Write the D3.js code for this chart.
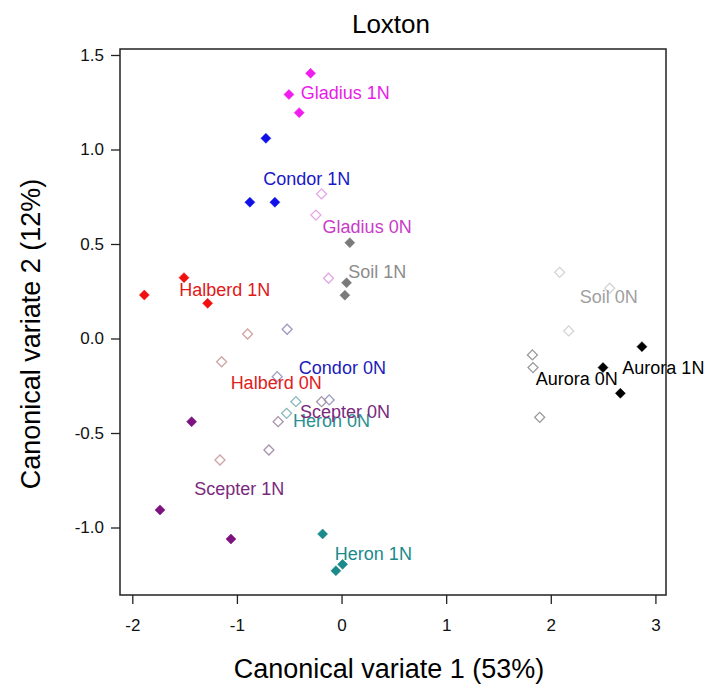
<!DOCTYPE html>
<html lang="en">
<head>
  <meta charset="UTF-8">
  <title>Loxton</title>
  <script src="https://d3js.org/d3.v7.min.js"></script>
  <style>
    body { margin: 0; background: #fff; }
    svg { display: block; font-family: "Liberation Sans", Arial, sans-serif; }
    .axis text { font-size: 17px; fill: #111; }
    .axis line { stroke: #222; stroke-width: 1.3; }
    .axis path { display: none; }
    .ptlabel { font-size: 18px; }
  </style>
</head>
<body>
<svg width="707" height="688"></svg>

<script>
  // groups (treatments) and canonical variate scores per replicate
  const groups = ["Gladius 1N", "Condor 1N", "Gladius 0N", "Soil 1N", "Halberd 1N",
                  "Halberd 0N", "Condor 0N", "Heron 0N", "Scepter 0N", "Scepter 1N",
                  "Heron 1N", "Aurora 1N", "Aurora 0N", "Soil 0N"];
  const cv1 = [
    [-0.296, -0.503, -0.405],
    [-0.723, -0.876, -0.637],
    [-0.191, -0.245, -0.124],
    [0.079, 0.048, 0.032],
    [-1.885, -1.506, -1.280],
    [-0.898, -1.146, -1.162],
    [-0.520, -0.615, -0.118],
    [-0.436, -0.525],
    [-0.191, -0.606, -0.694],
    [-1.433, -1.735, -1.057],
    [-0.181, -0.054, 0.010],
    [2.871, 2.499, 2.665],
    [1.824, 1.830, 1.894],
    [2.085, 2.563, 2.171]
  ];
  const cv2 = [
    [1.403, 1.291, 1.195],
    [1.059, 0.721, 0.721],
    [0.765, 0.653, 0.319],
    [0.507, 0.295, 0.229],
    [0.230, 0.322, 0.186],
    [0.024, -0.123, -0.643],
    [0.049, -0.202, -0.325],
    [-0.334, -0.396],
    [-0.334, -0.440, -0.590],
    [-0.440, -0.907, -1.061],
    [-1.034, -1.229, -1.195],
    [-0.043, -0.154, -0.290],
    [-0.087, -0.154, -0.417],
    [0.350, 0.266, 0.040]
  ];
  // where each group name is written (left end of text, baseline), in score units
  const labelCv1 = [-0.389, -0.749, -0.181, 0.063, -1.551, -1.060, -0.408, -0.465, -0.398, -1.408, -0.064, 2.684, 1.856, 2.276];
  const labelCv2 = [1.267, 0.812, 0.558, 0.320, 0.225, -0.267, -0.188, -0.467, -0.421, -0.828, -1.172, -0.188, -0.246, 0.189];

  const xTicks = [-2, -1, 0, 1, 2, 3];
  const yTicks = [1.5, 1.0, 0.5, 0.0, -0.5, -1.0];

  // styles
  const markColor = ["#f01cf0", "#1010e8", "#e4a8e4", "#7a7a7a", "#f01010",
                     "#d0a4a4", "#9c9cc4", "#8ab8b8", "#a894ac", "#7e1280",
                     "#1a8a8a", "#000000", "#9a9a9a", "#d4d4d4"];
  const labelColor = ["#e81ce8", "#1818c8", "#c83cc8", "#8c8c8c", "#e01818",
                      "#e02020", "#1c1cb8", "#2a9090", "#7a2a7c", "#7a2a7c",
                      "#1a8a8a", "#000000", "#000000", "#a0a0a0"];
  const filled = [true, true, false, true, true, false, false, false, false, true, true, true, false, false];

  const svg = d3.select("svg");
  const box = {left: 120, right: 666, top: 49, bottom: 595};

  const x = d3.scaleLinear().domain([-2.1175, 3.1012]).range([box.left, box.right]);
  const y = d3.scaleLinear().domain([1.5317, -1.3571]).range([box.top, box.bottom]);

  // frame
  svg.append("rect")
    .attr("x", box.left).attr("y", box.top)
    .attr("width", box.right - box.left).attr("height", box.bottom - box.top)
    .attr("fill", "none").attr("stroke", "#222").attr("stroke-width", 1.5);

  // axes (plain hyphen for negatives, like the original)
  svg.append("g")
    .attr("class", "axis")
    .attr("transform", `translate(0,${box.bottom})`)
    .call(d3.axisBottom(x).tickValues(xTicks).tickSize(9).tickPadding(15).tickFormat(d => d.toFixed(0)));

  svg.append("g")
    .attr("class", "axis")
    .attr("transform", `translate(${box.left},0)`)
    .call(d3.axisLeft(y).tickValues(yTicks).tickSize(9).tickPadding(7).tickFormat(d => d.toFixed(1)));

  // titles
  svg.append("text")
    .attr("x", 391).attr("y", 33)
    .attr("text-anchor", "middle")
    .style("font-size", "26px")
    .text("Loxton");

  svg.append("text")
    .attr("x", 389).attr("y", 678)
    .attr("text-anchor", "middle")
    .style("font-size", "27px")
    .text("Canonical variate 1 (53%)");

  svg.append("text")
    .attr("transform", "translate(40,334) rotate(-90)")
    .attr("text-anchor", "middle")
    .style("font-size", "27px")
    .text("Canonical variate 2 (12%)");

  // points
  const pts = [];
  groups.forEach((g, i) => {
    cv1[i].forEach((v, j) => pts.push({g: i, a: v, b: cv2[i][j]}));
  });

  const diamond = d3.symbol().type(d3.symbolSquare).size(50);

  // open first, filled on top
  pts.sort((p, q) => filled[p.g] - filled[q.g]);

  svg.append("g")
    .selectAll("path")
    .data(pts)
    .join("path")
      .attr("d", diamond)
      .attr("transform", d => `translate(${x(d.a)},${y(d.b)}) rotate(45)`)
      .attr("fill", d => filled[d.g] ? markColor[d.g] : "none")
      .attr("stroke", d => markColor[d.g])
      .attr("stroke-width", d => filled[d.g] ? 0.5 : 1.3);

  // group labels
  svg.append("g")
    .selectAll("text")
    .data(groups)
    .join("text")
      .attr("class", "ptlabel")
      .attr("x", (d, i) => x(labelCv1[i]))
      .attr("y", (d, i) => y(labelCv2[i]))
      .attr("fill", (d, i) => labelColor[i])
      .text(d => d);
</script>
</body>
</html>
